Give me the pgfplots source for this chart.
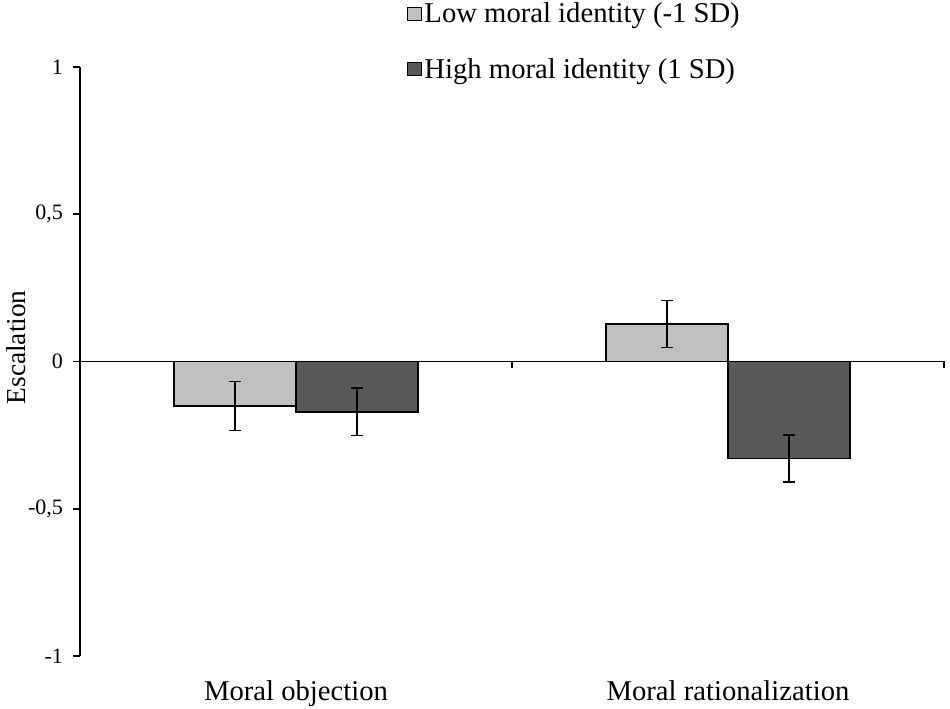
\documentclass[border=0pt]{standalone}
\usepackage{fontspec}
\setmainfont{Liberation Serif}
\usepackage{pgfplots}
\pgfplotsset{compat=1.18}
\definecolor{lowc}{HTML}{C0C0C0}
\definecolor{highc}{HTML}{595959}
\begin{document}
\begin{tikzpicture}
\useasboundingbox (-60pt,-39.75pt) rectangle (652.5pt,492pt);
\begin{axis}[
  at={(0pt,0pt)}, anchor=south west,
  scale only axis, width=648pt, height=441.75pt,
  xmin=-0.5, xmax=1.5, ymin=-1, ymax=1,
  axis y line=left, axis x line=middle,
  axis line style={-, line width=1.2pt, black},
  ybar=0pt, bar width=91.5pt,
  xtick={-0.5,0.5,1.5}, xticklabels={},
  extra x ticks={0,1},
  extra x tick labels={Moral objection,Moral rationalization},
  extra x tick style={major tick length=0pt,
    tick label style={yshift=-235.5pt, font=\fontsize{21.5}{26}\selectfont}},
  ytick={-1,-0.5,0,0.5,1},
  yticklabels={{-1},{-0,5},{0},{0,5},{1}},
  tick align=outside, major tick length=5.25pt,
  tick style={line width=1.2pt, black},
  yticklabel style={font=\fontsize{16.5}{20}\selectfont, xshift=-4pt},
  ylabel={Escalation},
  ylabel style={at={(axis description cs:-0.074,0.524)}, anchor=center,
    font=\fontsize{20.5}{24}\selectfont},
  legend style={at={(axis description cs:0.3785,1.1138)}, anchor=north west,
    draw=none, fill=none, inner sep=0pt, row sep=21pt,
    font=\fontsize{21.5}{26}\selectfont},
  legend cell align=left,
  legend image code/.code={\draw[#1, line width=0.9pt] (0pt,-5pt) rectangle (10pt,5pt);},
]
\addplot[fill=lowc, draw=black, line width=1.2pt,
  error bars/.cd, y dir=both, y explicit,
  error mark options={rotate=90, mark size=4.5pt, line width=1.2pt, black},
  error bar style={line width=1.2pt, black}]
  coordinates {(0,-0.151) +- (0,0.083) (1,0.127) +- (0,0.080)};
\addplot[fill=highc, draw=black, line width=1.2pt,
  error bars/.cd, y dir=both, y explicit,
  error mark options={rotate=90, mark size=4.5pt, line width=1.2pt, black},
  error bar style={line width=1.2pt, black}]
  coordinates {(0,-0.171) +- (0,0.080) (1,-0.330) +- (0,0.080)};
\legend{Low moral identity (-1 SD), High moral identity (1 SD)}
\end{axis}
\end{tikzpicture}
\end{document}
